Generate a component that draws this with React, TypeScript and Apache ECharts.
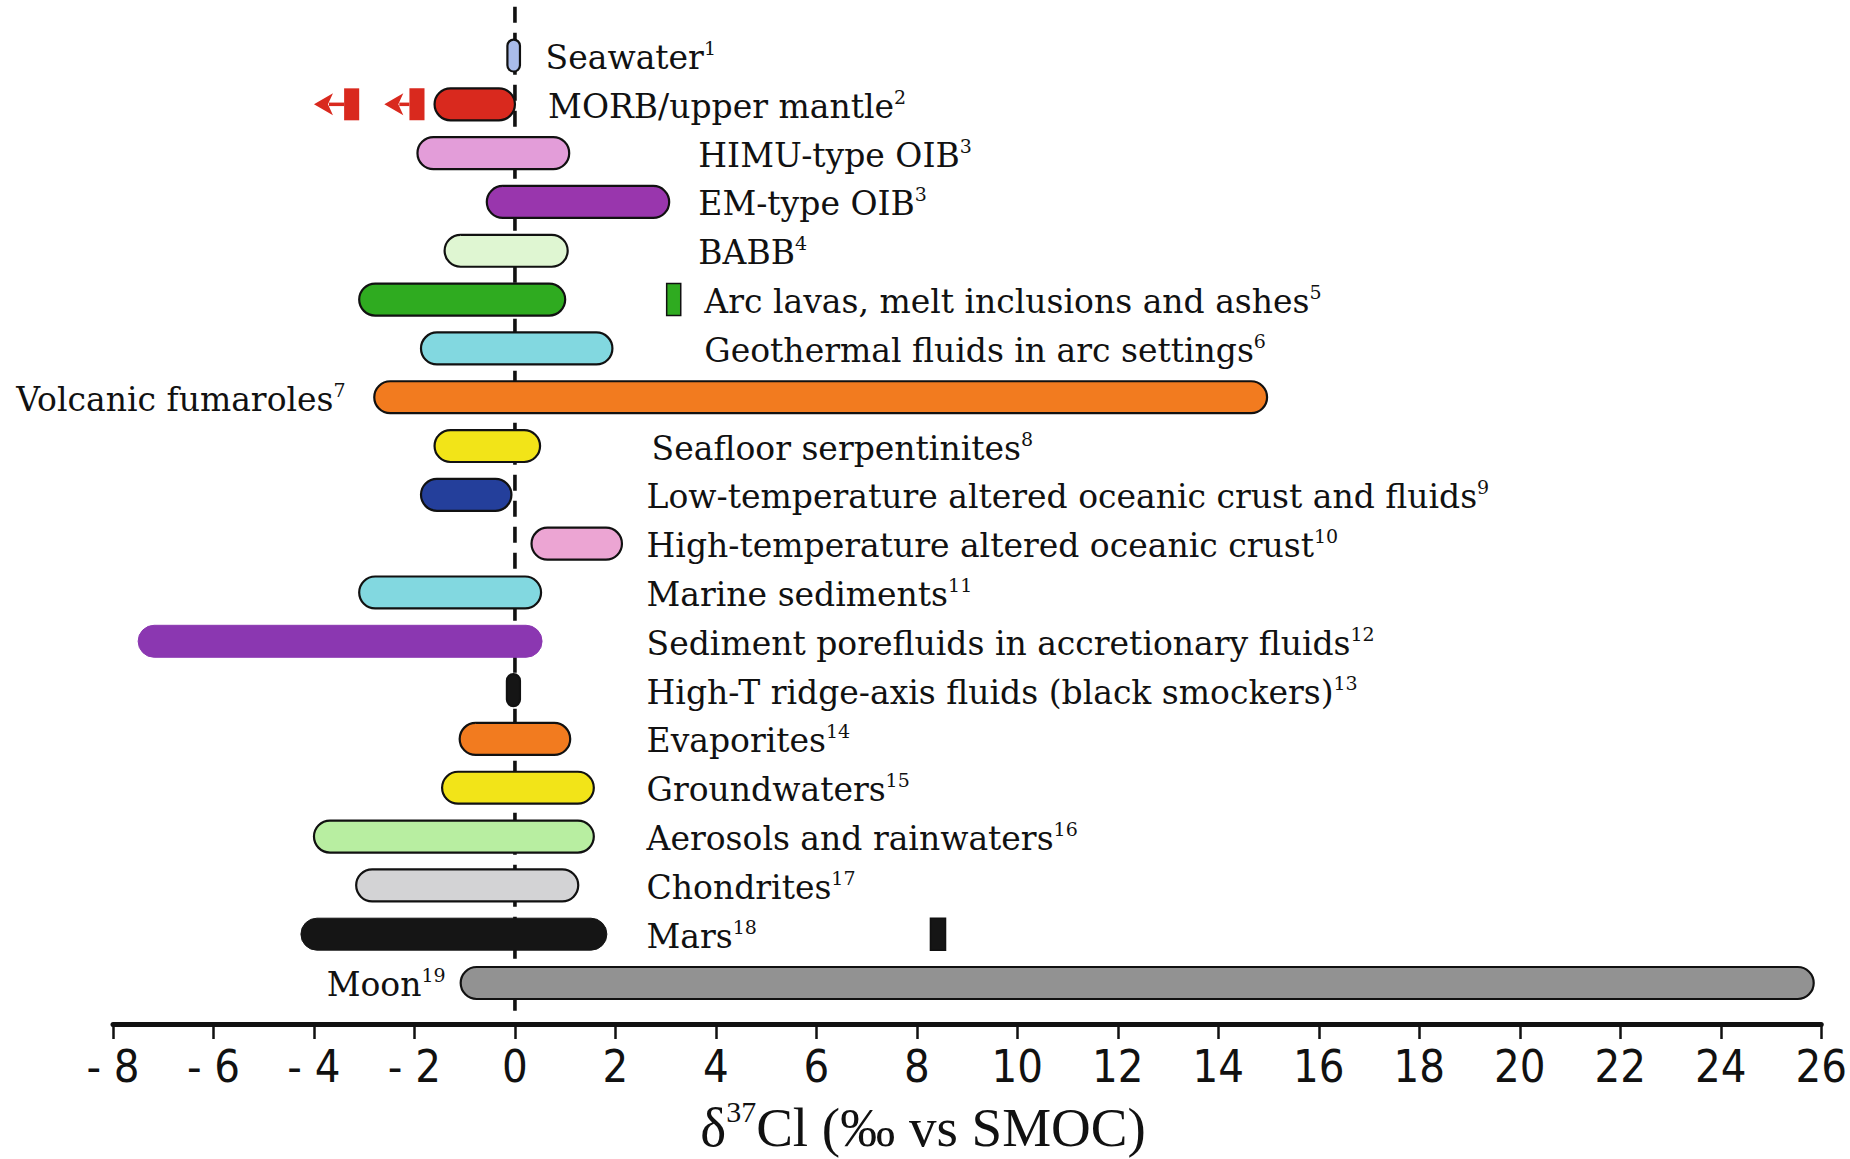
import React, { useEffect, useRef } from "react";
import * as echarts from "echarts";

// ---------- data ----------
const categories = [
  "Seawater",
  "MORB/upper mantle",
  "HIMU-type OIB",
  "EM-type OIB",
  "BABB",
  "Arc lavas, melt inclusions and ashes",
  "Geothermal fluids in arc settings",
  "Volcanic fumaroles",
  "Seafloor serpentinites",
  "Low-temperature altered oceanic crust and fluids",
  "High-temperature altered oceanic crust",
  "Marine sediments",
  "Sediment porefluids in accretionary fluids",
  "High-T ridge-axis fluids (black smockers)",
  "Evaporites",
  "Groundwaters",
  "Aerosols and rainwaters",
  "Chondrites",
  "Mars",
  "Moon",
];
const refNumbers = ["1", "2", "3", "3", "4", "5", "6", "7", "8", "9", "10", "11", "12", "13", "14", "15", "16", "17", "18", "19"];
const rangeMin = [-0.15, -1.6, -1.94, -0.56, -1.4, -3.1, -1.87, -2.8, -1.6, -1.87, 0.33, -3.1, -7.5, -0.16, -1.1, -1.45, -4.0, -3.16, -4.26, -1.08];
const rangeMax = [0.1, 0.0, 1.08, 3.07, 1.05, 1.0, 1.94, 14.97, 0.5, -0.07, 2.13, 0.52, 0.54, 0.1, 1.1, 1.57, 1.57, 1.26, 1.83, 25.85];

// single isolated measurements (Arc lavas, Mars)
const pointRows = [5, 18];
const pointMin = [3.02, 8.27];
const pointMax = [3.3, 8.57];

// MORB lower-limit arrows
const arrowRow = 1;
const arrowRectMin = [-2.1, -3.4];
const arrowRectMax = [-1.8, -3.1];
const arrowTip = [-2.6, -4.0];

const zeroLine = [0];
const xMin = -8;
const xMax = 26;
const xInterval = 2;
const axisTitle = { main: "δ", sup: "37", rest: "Cl (‰ vs SMOC)" };

// ---------- styles / layout ----------
const barColors = [
  "#a9bbe9", "#d9291e", "#e39dd9", "#9936ad", "#dff6d2", "#2fab20", "#82d8e0", "#f27b1f", "#f2e418", "#243f9b",
  "#eca5d3", "#82d8e0", "#8b37b1", "#151515", "#f27b1f", "#f2e418", "#b8eea1", "#d3d3d5", "#151515", "#929292",
];
const barBorder = [true, true, true, true, true, true, true, true, true, true, true, true, false, true, true, true, true, true, false, true];
const pointColors = ["#2fab20", "#151515"];
const labelAnchor = [0.61, 0.66, 3.65, 3.65, 3.65, 3.77, 3.77, -3.37, 2.72, 2.62, 2.62, 2.62, 2.62, 2.62, 2.62, 2.62, 2.62, 2.62, 2.62, -1.38];
const labelAlign = ["left", "left", "left", "left", "left", "left", "left", "right", "left", "left", "left", "left", "left", "left", "left", "left", "left", "left", "left", "right"];

const SERIF = "'DejaVu Serif', 'Liberation Serif', serif";
const TICKFONT = "'Liberation Sans Narrow', 'DejaVu Sans Condensed', 'Liberation Sans', sans-serif";
const BAR_FRAC = 0.655;

export default function App() {
  const ref = useRef<HTMLDivElement>(null);

  useEffect(() => {
    if (!ref.current) return;
    const chart = echarts.init(ref.current, null, { renderer: "svg" });

    const barData = categories.map((_, i) => [rangeMin[i], rangeMax[i], i]);
    const pointData = pointRows.map((r, i) => [pointMin[i], pointMax[i], r, i]);
    const arrowData = arrowTip.map((t, i) => [arrowRectMin[i], arrowRectMax[i], t, arrowRow]);
    const labelData = categories.map((_, i) => [labelAnchor[i], i]);

    const option: any = {
      animation: false,
      backgroundColor: "#ffffff",
      grid: { left: 113, right: 24, top: 6.7, bottom: 135 },
      graphic: [
        {
          type: "text",
          x: 923,
          y: 1127,
          style: {
            text: `{d|${axisTitle.main}}{s|${axisTitle.sup}}{d|${axisTitle.rest}}`,
            align: "center",
            verticalAlign: "middle",
            rich: {
              d: { fontSize: 55, fontFamily: "'Liberation Serif', serif", fill: "#111", lineHeight: 62 },
              s: { fontSize: 30, fontFamily: "'Liberation Serif', serif", fill: "#111", verticalAlign: "top", lineHeight: 40 },
            },
          },
        },
      ],
      xAxis: {
        type: "value",
        min: xMin,
        max: xMax,
        interval: xInterval,
        splitLine: { show: false },
        axisLine: { show: true, onZero: false, lineStyle: { color: "#111", width: 5 } },
        axisTick: { show: true, length: 15, lineStyle: { color: "#111", width: 2.5 } },
        axisLabel: {
          margin: 20,
          fontSize: 45,
          color: "#111",
          fontFamily: TICKFONT,
          formatter: (v: number) => (v < 0 ? "- " + Math.abs(v) : String(v)),
        },
      },
      yAxis: { type: "value", inverse: true, min: -1, max: 19.84, show: false },
      series: [
        {
          type: "custom",
          name: "zero",
          z: 1,
          silent: true,
          data: zeroLine.map((v) => [v]),
          encode: { x: 0 },
          renderItem: (params: any, api: any) => {
            const cs = params.coordSys;
            const x = api.coord([api.value(0), 0])[0];
            return {
              type: "line",
              shape: { x1: x, y1: cs.y, x2: x, y2: cs.y + cs.height - 10 },
              style: { stroke: "#111", lineWidth: 3.6, lineDash: [16, 10] },
            };
          },
        },
        {
          type: "custom",
          name: "ranges",
          z: 3,
          silent: true,
          data: barData,
          encode: { x: [0, 1], y: 2 },
          renderItem: (params: any, api: any) => {
            const i = params.dataIndex;
            const y = api.value(2);
            const p0 = api.coord([api.value(0), y]);
            const p1 = api.coord([api.value(1), y]);
            const h = api.size([0, 1])[1] * BAR_FRAC;
            const w = p1[0] - p0[0];
            return {
              type: "rect",
              shape: { x: p0[0], y: p0[1] - h / 2, width: w, height: h, r: Math.min(h / 2, w / 2) },
              style: {
                fill: barColors[i],
                stroke: barBorder[i] ? "#111" : barColors[i],
                lineWidth: barBorder[i] ? 2.2 : 1,
              },
            };
          },
        },
        {
          type: "custom",
          name: "points",
          z: 3,
          silent: true,
          data: pointData,
          encode: { x: [0, 1], y: 2 },
          renderItem: (params: any, api: any) => {
            const i = params.dataIndex;
            const y = api.value(2);
            const p0 = api.coord([api.value(0), y]);
            const p1 = api.coord([api.value(1), y]);
            const h = api.size([0, 1])[1] * BAR_FRAC;
            return {
              type: "rect",
              shape: { x: p0[0], y: p0[1] - h / 2, width: p1[0] - p0[0], height: h },
              style: { fill: pointColors[i], stroke: "#111", lineWidth: 1.5 },
            };
          },
        },
        {
          type: "custom",
          name: "arrows",
          z: 3,
          silent: true,
          data: arrowData,
          encode: { x: [0, 1, 2], y: 3 },
          renderItem: (params: any, api: any) => {
            const y = api.value(3);
            const p0 = api.coord([api.value(0), y]);
            const p1 = api.coord([api.value(1), y]);
            const pt = api.coord([api.value(2), y]);
            const h = api.size([0, 1])[1] * BAR_FRAC;
            const red = "#d9291e";
            const headL = 19;
            const headH = 11;
            return {
              type: "group",
              children: [
                {
                  type: "rect",
                  shape: { x: p0[0], y: p0[1] - h / 2, width: p1[0] - p0[0], height: h },
                  style: { fill: red },
                },
                {
                  type: "line",
                  shape: { x1: pt[0] + headL - 4, y1: p0[1], x2: p0[0], y2: p0[1] },
                  style: { stroke: red, lineWidth: 3.5 },
                },
                {
                  type: "polygon",
                  shape: {
                    points: [
                      [pt[0], p0[1]],
                      [pt[0] + headL, p0[1] - headH],
                      [pt[0] + headL - 5, p0[1]],
                      [pt[0] + headL, p0[1] + headH],
                    ],
                  },
                  style: { fill: red },
                },
              ],
            };
          },
        },
        {
          type: "custom",
          name: "labels",
          z: 4,
          silent: true,
          data: labelData,
          encode: { x: 0, y: 1 },
          renderItem: (params: any, api: any) => {
            const i = params.dataIndex;
            const p = api.coord([api.value(0), api.value(1)]);
            return {
              type: "text",
              x: p[0],
              y: p[1] + 2,
              style: {
                text: `{b|${categories[i]}}{s|${refNumbers[i]}}`,
                align: labelAlign[i],
                verticalAlign: "middle",
                rich: {
                  b: { fontSize: 33, fontFamily: SERIF, fill: "#111", lineHeight: 38 },
                  s: { fontSize: 19, fontFamily: SERIF, fill: "#111", verticalAlign: "top", lineHeight: 24 },
                },
              },
            };
          },
        },
      ],
    };

    chart.setOption(option);
    return () => chart.dispose();
  }, []);

  return (
    <div
      ref={ref}
      style={{ position: "absolute", left: 0, top: 0, width: 1850, height: 1159, background: "#fff" }}
    />
  );
}
